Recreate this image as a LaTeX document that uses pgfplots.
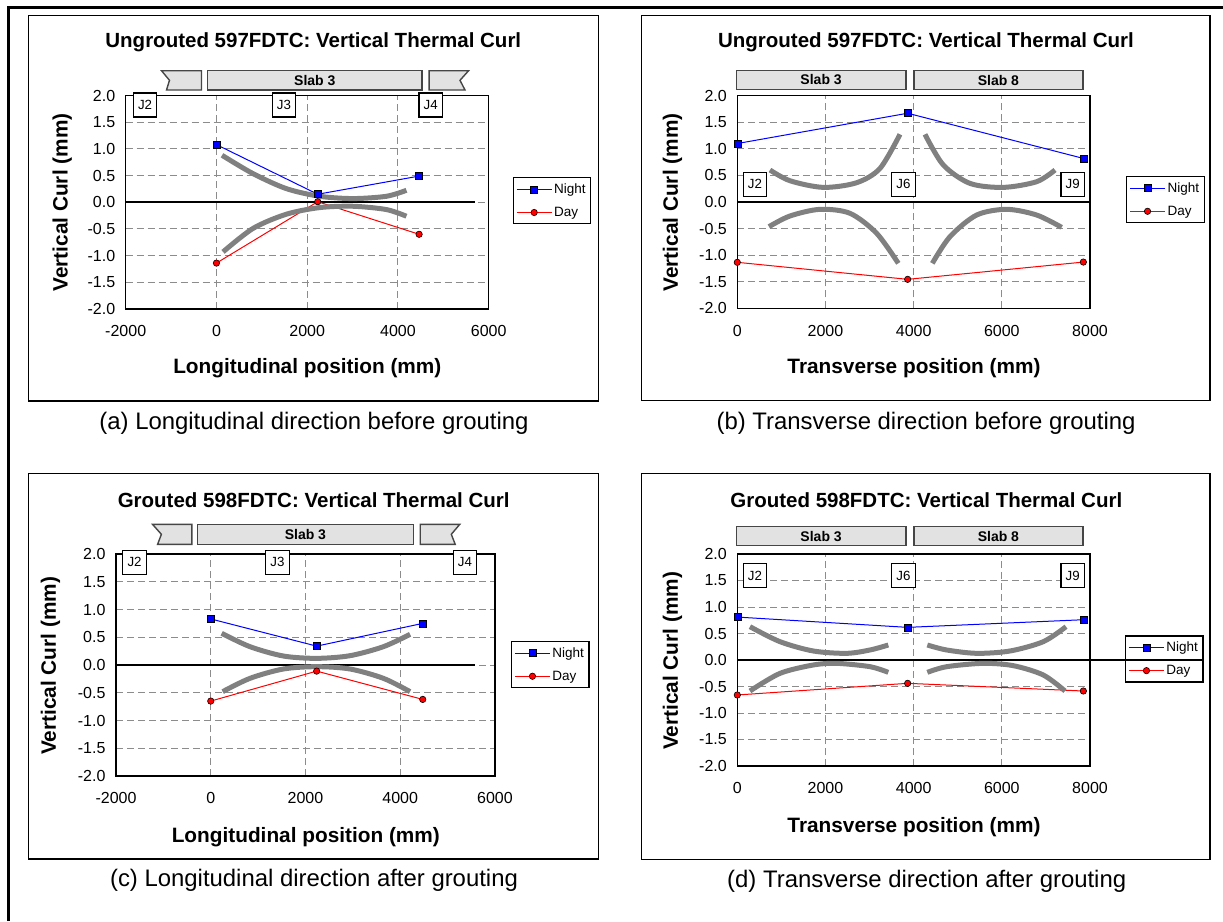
\documentclass[border=0pt]{standalone}
\usepackage{fontspec}
\setmainfont{Liberation Sans}
\usepackage{pgfplots}
\pgfplotsset{compat=1.18}

\definecolor{nightblue}{RGB}{0,0,255}
\definecolor{dayred}{RGB}{255,0,0}
\definecolor{curlgray}{RGB}{128,128,128}
\definecolor{gridgray}{RGB}{140,140,140}
\definecolor{slabfill}{RGB}{226,226,226}
\definecolor{slabedge}{RGB}{70,70,70}

\newcommand\fs[1]{\fontsize{#1}{#1}\selectfont}

\pgfplotsset{
  legend image code/.code={%
    \draw[mark repeat=2,mark phase=2,#1] plot coordinates {(0pt,0pt) (17.5pt,0pt) (35pt,0pt)};},
  curlax/.style={
    scale only axis, anchor=north west, clip=false,
    ymin=-2, ymax=2,
    ytick={-2,-1.5,-1,-0.5,0,0.5,1,1.5,2},
    yticklabels={-2.0,-1.5,-1.0,-0.5,0.0,0.5,1.0,1.5,2.0},
    grid=major,
    major grid style={gridgray, dash pattern=on 7pt off 4pt, line width=0.9pt},
    axis line style={line width=1.3pt},
    major tick length=0pt,
    tick label style={font=\fs{16}},
    xticklabel style={yshift=-13pt},
    yticklabel style={xshift=-7pt},
    legend cell align=left,
    legend style={anchor=north west, draw=black, line width=1.1pt,
      inner xsep=3pt, inner ysep=4pt, font=\fs{13.5}, row sep=8pt,
      nodes={inner sep=2pt}},
  },
  night/.style={nightblue, line width=1pt, mark=square*, mark size=3.5pt,
    mark options={fill=nightblue, draw=black, line width=0.6pt}},
  day/.style={dayred, line width=1pt, mark=*, mark size=3.2pt,
    mark options={fill=dayred, draw=black, line width=0.6pt}},
  curl/.style={curlgray, line width=5pt, smooth, no markers, forget plot},
  zero/.style={black, line width=2pt, no markers, forget plot},
}

% joint label box, centred
\newcommand\jbox[3]{\node[draw=black, line width=1.1pt, fill=white,
  minimum width=23.4pt, minimum height=24pt, inner sep=0pt, font=\fs{13.3}] at (#1,#2) {#3};}

\begin{document}
\begin{tikzpicture}[x=1pt,y=-1pt]
\useasboundingbox (0,0) rectangle (1223,921);

% outer frame (open right and bottom)
\draw[line width=2.5pt] (8.5,921) -- (8.5,7.3) -- (1223,7.3);

% panel frames
\draw[line width=1.3pt] (28.4,15.3) rectangle (598.3,401);
\draw[line width=1.3pt] (641.3,15.3) rectangle (1210.1,400.7);
\draw[line width=1.3pt] (28.4,473.3) rectangle (598.3,859);
\draw[line width=1.3pt] (641.3,473.3) rectangle (1210.1,859.7);

% ---------------- (a) ----------------
\begin{axis}[curlax, at={(125.7pt,-95.5pt)}, width=363pt, height=213.5pt,
  xmin=-2000, xmax=6000, xtick={-2000,0,2000,4000,6000},
  xticklabels={-2000,0,2000,4000,6000},
  legend style={at={(1.066,0.617)}, fill=white}]
\addplot[zero] coordinates {(-2000,0) (5693,0)};
\addplot[night] coordinates {(0,1.08) (2232,0.15) (4466,0.49)};
\addlegendentry{Night}
\addplot[day] coordinates {(0,-1.14) (2232,0.01) (4466,-0.60)};
\addlegendentry{Day}
\addplot[curl] coordinates {(123,0.88) (807,0.536) (1541,0.255) (2276,0.112) (3011,0.069) (3746,0.112) (4187,0.224)};
\addplot[curl] coordinates {(145,-0.93) (807,-0.49) (1541,-0.224) (2276,-0.10) (3011,-0.075) (3746,-0.137) (4187,-0.262)};
\end{axis}

% ---------------- (b) ----------------
\begin{axis}[curlax, at={(737.3pt,-95.7pt)}, width=352.7pt, height=212.6pt,
  xmin=0, xmax=8000, xtick={0,2000,4000,6000,8000},
  xticklabels={0,2000,4000,6000,8000},
  legend style={at={(1.102,0.622)}, fill=white}]
\addplot[zero] coordinates {(0,0) (8000,0)};
\addplot[night] coordinates {(0,1.10) (3864,1.67) (7849,0.82)};
\addlegendentry{Night}
\addplot[day] coordinates {(0,-1.135) (3864,-1.455) (7849,-1.13)};
\addlegendentry{Day}
\addplot[curl] coordinates {(741,0.602) (1195,0.40) (1951,0.275) (2707,0.363) (3237,0.633) (3690,1.273)};
\addplot[curl] coordinates {(4257,1.273) (4673,0.696) (5278,0.35) (6034,0.275) (6790,0.382) (7206,0.602)};
\addplot[curl] coordinates {(718,-0.464) (1195,-0.263) (1875,-0.138) (2556,-0.213) (3161,-0.589) (3652,-1.154)};
\addplot[curl] coordinates {(4424,-1.154) (4824,-0.652) (5429,-0.245) (6110,-0.138) (6790,-0.245) (7357,-0.477)};
\end{axis}

% ---------------- (c) ----------------
\begin{axis}[curlax, at={(116pt,-554pt)}, width=379pt, height=222pt,
  xmin=-2000, xmax=6000, xtick={-2000,0,2000,4000,6000},
  xticklabels={-2000,0,2000,4000,6000},
  legend style={at={(1.042,0.608)}, fill=white}]
\addplot[zero] coordinates {(-2000,0) (5579,0)};
\addplot[night] coordinates {(0,0.83) (2236,0.34) (4475,0.75)};
\addlegendentry{Night}
\addplot[day] coordinates {(0,-0.65) (2236,-0.11) (4475,-0.62)};
\addlegendentry{Day}
\addplot[curl] coordinates {(231,0.571) (829,0.33) (1533,0.162) (2236,0.12) (2940,0.168) (3644,0.33) (4207,0.553)};
\addplot[curl] coordinates {(252,-0.48) (829,-0.24) (1533,-0.072) (2236,-0.03) (2940,-0.072) (3644,-0.24) (4207,-0.48)};
\end{axis}

% ---------------- (d) ----------------
\begin{axis}[curlax, at={(737.3pt,-554pt)}, width=352.7pt, height=212pt,
  xmin=0, xmax=8000, xtick={0,2000,4000,6000,8000},
  xticklabels={0,2000,4000,6000,8000},
  legend style={at={(1.099,0.616)}, fill=none}]
\addplot[zero] coordinates {(0,0) (10560,0)};
\addplot[night] coordinates {(0,0.81) (3864,0.616) (7849,0.76)};
\addlegendentry{Night}
\addplot[day] coordinates {(0,-0.66) (3864,-0.44) (7849,-0.585)};
\addlegendentry{Day}
\addplot[curl] coordinates {(287,0.629) (968,0.346) (1724,0.17) (2480,0.126) (3010,0.189) (3425,0.283)};
\addplot[curl] coordinates {(4310,0.283) (4749,0.189) (5429,0.126) (6185,0.17) (6941,0.346) (7456,0.629)};
\addplot[curl] coordinates {(287,-0.585) (968,-0.252) (1724,-0.094) (2253,-0.063) (3010,-0.126) (3425,-0.233)};
\addplot[curl] coordinates {(4310,-0.233) (4749,-0.126) (5580,-0.063) (6261,-0.107) (6941,-0.283) (7433,-0.585)};
\end{axis}

% slab bars
\begin{scope}[draw=slabedge, fill=slabfill, line width=1.4pt]
  % (a)
  \filldraw (161.5,70.7) -- (201.5,70.7) -- (201.5,90) -- (166.5,90) -- (169.5,80.3) -- cycle;
  \filldraw (207.4,70.7) rectangle (422.1,90);
  \filldraw (429.1,70.7) -- (468.6,70.7) -- (460,80.3) -- (465,90) -- (429.1,90) -- cycle;
  % (c)
  \filldraw (152.5,524.3) -- (191.8,524.3) -- (191.8,544.3) -- (157.6,544.3) -- (161.4,534.3) -- cycle;
  \filldraw (197.6,524.3) rectangle (413.2,544.3);
  \filldraw (420.2,524.3) -- (459.8,524.3) -- (451.3,534.3) -- (455.2,544.3) -- (420.2,544.3) -- cycle;
  % (b)
  \filldraw (736.3,70.7) rectangle (905.9,89.3);
  \filldraw (913.8,70.7) rectangle (1083,89.3);
  % (d)
  \filldraw (736.3,526.7) rectangle (905.9,545.7);
  \filldraw (913.8,526.7) rectangle (1083,545.7);
\end{scope}
\begin{scope}[every node/.style={font=\bfseries\fs{14}}]
  \node at (314.8,80.3) {Slab 3};
  \node at (305.4,534.3) {Slab 3};
  \node at (821.1,80) {Slab 3};
  \node at (998.4,80) {Slab 8};
  \node at (821.1,536.2) {Slab 3};
  \node at (998.4,536.2) {Slab 8};
\end{scope}

% joint boxes
\jbox{145.1}{105}{J2} \jbox{284}{105}{J3} \jbox{430.7}{105}{J4}
\jbox{755}{184.3}{J2} \jbox{903.4}{184.3}{J6} \jbox{1072.7}{184.3}{J9}
\jbox{134.6}{562.3}{J2} \jbox{277.4}{562.3}{J3} \jbox{464.9}{562.3}{J4}
\jbox{755}{575.5}{J2} \jbox{903.4}{575.5}{J6} \jbox{1072.7}{575.5}{J9}

% titles
\begin{scope}[every node/.style={font=\bfseries\fs{20.5}}]
  \node at (313.3,42) {Ungrouted 597FDTC: Vertical Thermal Curl};
  \node at (926,42) {Ungrouted 597FDTC: Vertical Thermal Curl};
  \node at (313.7,500) {Grouted 598FDTC: Vertical Thermal Curl};
  \node at (926.3,500) {Grouted 598FDTC: Vertical Thermal Curl};
\end{scope}

% axis labels
\begin{scope}[every node/.style={font=\bfseries\fs{20.8}}]
  \node at (307.3,368.3) {Longitudinal position (mm)};
  \node at (914,368.3) {Transverse position (mm)};
  \node at (305.8,837.3) {Longitudinal position (mm)};
  \node at (914,827.3) {Transverse position (mm)};
  \node[rotate=90] at (62.2,202.5) {Vertical Curl (mm)};
  \node[rotate=90] at (672.5,202.5) {Vertical Curl (mm)};
  \node[rotate=90] at (50.6,665.8) {Vertical Curl (mm)};
  \node[rotate=90] at (672.5,660.8) {Vertical Curl (mm)};
\end{scope}

% captions
\begin{scope}[every node/.style={font=\fs{23.9}}]
  \node at (314,423) {(a) Longitudinal direction before grouting};
  \node at (926,423) {(b) Transverse direction before grouting};
  \node at (314,880.7) {(c) Longitudinal direction after grouting};
  \node at (926.7,881.7) {(d) Transverse direction after grouting};
\end{scope}
\end{tikzpicture}
\end{document}
